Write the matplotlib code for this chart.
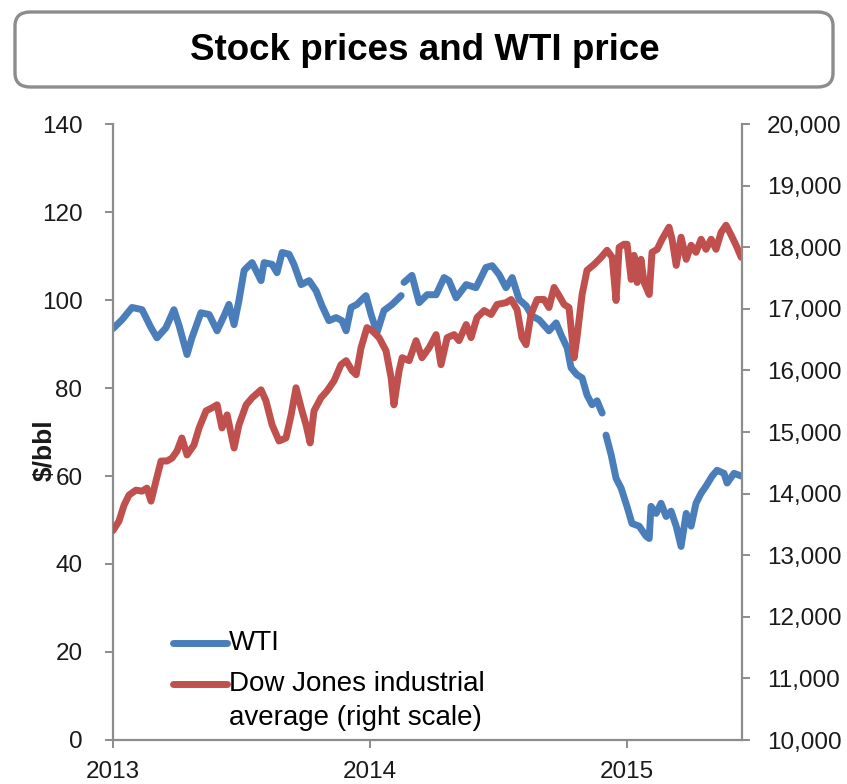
import numpy as np
import matplotlib
matplotlib.use("Agg")
import matplotlib.pyplot as plt
from matplotlib.lines import Line2D
from matplotlib.patches import FancyBboxPatch
from matplotlib.ticker import FuncFormatter

plt.rcParams['font.family'] = ['Liberation Sans', 'DejaVu Sans']

title = "Stock prices and WTI price"
left_label = "$/bbl"
legend_labels = ["WTI", "Dow Jones industrial\naverage (right scale)"]
year_ticks = [2013, 2014, 2015]
left_ticks = [0, 20, 40, 60, 80, 100, 120, 140]
right_ticks = [10000, 11000, 12000, 13000, 14000, 15000, 16000, 17000, 18000, 19000, 20000]

# WTI ($/bbl), time in decimal years; nan = gap in the series
wti_t = [2013.000, 2013.035, 2013.074, 2013.113, 2013.148, 2013.171, 2013.206, 2013.237,
         2013.257, 2013.288, 2013.307, 2013.342, 2013.374, 2013.405, 2013.432, 2013.451,
         2013.471, 2013.490, 2013.510, 2013.521, 2013.541, 2013.576, 2013.588, 2013.619,
         2013.638, 2013.658, 2013.685, 2013.704, 2013.732, 2013.763, 2013.790, 2013.813,
         2013.840, 2013.868, 2013.891, 2013.907, 2013.926, 2013.949, 2013.984, 2014.004,
         2014.027, 2014.054, 2014.086, 2014.121, 2014.126, 2014.132, 2014.163, 2014.191,
         2014.222, 2014.257, 2014.288, 2014.307, 2014.335, 2014.374, 2014.412, 2014.451,
         2014.475, 2014.502, 2014.529, 2014.553, 2014.580, 2014.607, 2014.630, 2014.658,
         2014.696, 2014.724, 2014.743, 2014.767, 2014.782, 2014.805, 2014.825, 2014.844,
         2014.864, 2014.883, 2014.903, 2014.910, 2014.918, 2014.938, 2014.957, 2014.977,
         2015.000, 2015.019, 2015.047, 2015.074, 2015.086, 2015.093, 2015.113, 2015.132,
         2015.152, 2015.171, 2015.191, 2015.210, 2015.230, 2015.249, 2015.268, 2015.288,
         2015.307, 2015.331, 2015.350, 2015.377, 2015.389, 2015.416, 2015.444]
wti_v = [93.5, 95.5, 98.3, 97.8, 93.7, 91.4, 93.7, 97.8,
         94.2, 87.6, 91.4, 97.1, 96.7, 93.0, 96.4, 99.0,
         94.4, 99.9, 106.7, 107.4, 108.5, 104.4, 108.5, 108.1,
         106.2, 110.8, 110.4, 108.1, 103.5, 104.4, 102.1, 98.7,
         95.3, 96.0, 95.3, 93.0, 98.3, 99.0, 101.0, 96.7,
         92.6, 97.6, 99.0, 101.0, np.nan, 104.0, 105.6, 99.4,
         101.2, 101.2, 105.1, 104.4, 100.5, 103.5, 102.8, 107.4,
         107.8, 105.8, 102.8, 105.1, 100.1, 98.7, 96.4, 95.5,
         93.0, 94.8, 92.1, 89.1, 84.6, 83.0, 82.3, 78.4,
         76.2, 77.1, 74.3, np.nan, 69.3, 64.8, 59.5, 57.2,
         53.0, 49.2, 48.6, 46.3, 45.8, 53.1, 51.5, 53.8,
         50.8, 52.0, 48.6, 44.0, 51.5, 48.6, 53.8, 56.1,
         57.7, 60.0, 61.3, 60.6, 58.4, 60.6, 60.0]

# Dow Jones industrial average (right scale)
dow_t = [2013.000, 2013.023, 2013.043, 2013.062, 2013.089, 2013.113, 2013.132, 2013.148,
         2013.167, 2013.187, 2013.210, 2013.230, 2013.249, 2013.268, 2013.288, 2013.315,
         2013.335, 2013.362, 2013.385, 2013.405, 2013.424, 2013.444, 2013.471, 2013.490,
         2013.518, 2013.541, 2013.576, 2013.595, 2013.619, 2013.646, 2013.673, 2013.693,
         2013.712, 2013.732, 2013.751, 2013.767, 2013.782, 2013.809, 2013.833, 2013.860,
         2013.887, 2013.907, 2013.930, 2013.946, 2013.965, 2013.988, 2014.008, 2014.035,
         2014.062, 2014.082, 2014.093, 2014.113, 2014.125, 2014.152, 2014.179, 2014.202,
         2014.230, 2014.257, 2014.276, 2014.300, 2014.327, 2014.346, 2014.374, 2014.393,
         2014.416, 2014.444, 2014.471, 2014.494, 2014.529, 2014.549, 2014.572, 2014.591,
         2014.607, 2014.626, 2014.650, 2014.677, 2014.696, 2014.716, 2014.735, 2014.755,
         2014.774, 2014.794, 2014.805, 2014.825, 2014.844, 2014.872, 2014.899, 2014.922,
         2014.942, 2014.957, 2014.969, 2014.988, 2015.000, 2015.016, 2015.027, 2015.039,
         2015.054, 2015.066, 2015.086, 2015.097, 2015.117, 2015.136, 2015.163, 2015.175,
         2015.191, 2015.210, 2015.230, 2015.249, 2015.268, 2015.288, 2015.307, 2015.327,
         2015.346, 2015.366, 2015.385, 2015.405, 2015.424, 2015.444]
dow_v = [13400, 13551, 13812, 13975, 14056, 14040, 14089, 13877,
         14203, 14529, 14529, 14578, 14692, 14903, 14627, 14789,
         15066, 15343, 15392, 15441, 15066, 15278, 14740, 15115,
         15441, 15555, 15685, 15506, 15115, 14854, 14903, 15278,
         15718, 15392, 15115, 14822, 15343, 15555, 15669, 15832,
         16093, 16158, 15995, 15930, 16369, 16695, 16646, 16532,
         16320, 15881, 15441, 15995, 16206, 16158, 16483, 16206,
         16369, 16581, 16093, 16532, 16581, 16483, 16744, 16532,
         16858, 16972, 16907, 17070, 17100, 17151, 16988, 16532,
         16418, 16907, 17151, 17151, 17021, 17347, 17216, 17070,
         17021, 16206, 16532, 17233, 17624, 17722, 17836, 17950,
         17836, 17135, 17999, 18048, 18048, 17477, 17868, 17428,
         17803, 17428, 17233, 17917, 17966, 18129, 18325, 18129,
         17705, 18162, 17803, 18031, 17917, 18129, 17966, 18129,
         17966, 18243, 18357, 18195, 18031, 17836]

blue = '#4A7EBB'
red = '#C0504D'
axis_gray = '#8C8C8C'
text_col = '#1A1A1A'
lw = 5.0

fig = plt.figure(figsize=(8.47, 7.84), dpi=100)
ax = fig.add_axes([113/847, 1-740/784, (742-113)/847, (740-124)/784])
ax2 = ax.twinx()

ax.plot(wti_t, wti_v, color=blue, lw=lw, solid_capstyle='round', solid_joinstyle='round')
ax2.plot(dow_t, dow_v, color=red, lw=lw, solid_capstyle='round', solid_joinstyle='round')

ax.set_xlim(2013.0, 2015.447)
ax.set_ylim(0, 140)
ax2.set_ylim(10000, 20000)
ax.set_xticks(year_ticks)
ax.set_xticklabels([str(y) for y in year_ticks])
ax.set_yticks(left_ticks)
ax2.set_yticks(right_ticks)
ax2.yaxis.set_major_formatter(FuncFormatter(lambda v, p: f"{int(v):,}"))

for a in (ax, ax2):
    for s in a.spines.values():
        s.set_color(axis_gray)
        s.set_linewidth(1.6)
    a.spines['top'].set_visible(False)
ax.spines['right'].set_visible(False)
ax2.spines['left'].set_visible(False)
ax2.spines['bottom'].set_visible(False)

ax.tick_params(axis='y', direction='out', length=6, width=1.4, color=axis_gray,
               labelsize=17.5, labelcolor=text_col, pad=16)
ax.tick_params(axis='x', direction='out', length=6, width=1.4, color=axis_gray,
               labelsize=17.5, labelcolor=text_col, pad=9)
ax2.tick_params(axis='y', direction='out', length=6, width=1.4, color=axis_gray,
                labelsize=17.5, labelcolor=text_col, pad=12)

ax.set_ylabel(left_label, fontsize=19, fontweight='bold', color=text_col)
ax.yaxis.set_label_coords(-0.09, 0.47)

# legend drawn by hand so the red key lines up with the first text line
leg_x0, leg_x1 = 173/847, 227/847
fig.add_artist(Line2D([leg_x0, leg_x1], [1-643/784]*2, transform=fig.transFigure,
                      color=blue, lw=lw, solid_capstyle='round'))
fig.add_artist(Line2D([leg_x0, leg_x1], [1-684/784]*2, transform=fig.transFigure,
                      color=red, lw=lw, solid_capstyle='round'))
fig.text(229/847, 1-643/784, legend_labels[0], fontsize=20, color='black', va='center', ha='left')
fig.text(229/847, 1-684/784, legend_labels[1].split('\n')[0], fontsize=20, color='black',
         va='center', ha='left')
fig.text(229/847, 1-718/784, legend_labels[1].split('\n')[1], fontsize=20, color='black',
         va='center', ha='left')

# title box
box = FancyBboxPatch((15/847, 1-87/784), (833-15)/847, (87-12)/784,
                     boxstyle="round,pad=0,rounding_size=0.018",
                     transform=fig.transFigure, facecolor='white',
                     edgecolor='#8C8C8C', linewidth=2.4)
fig.add_artist(box)
fig.text(425/847, 1-50/784, title, fontsize=26.5, fontweight='bold', ha='center', va='center')

fig.savefig('out.png', dpi=100)
